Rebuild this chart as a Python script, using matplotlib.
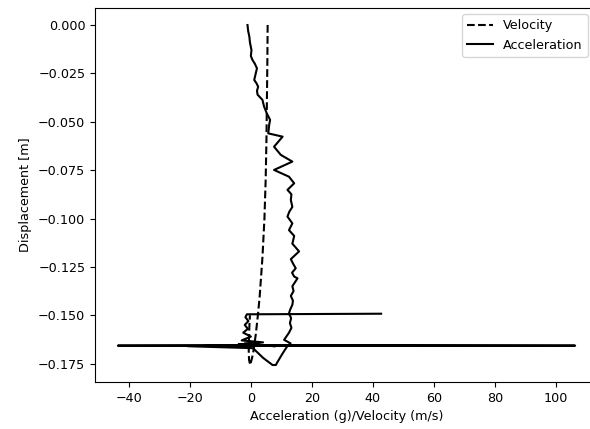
import matplotlib.pyplot as plt

plt.rcParams['font.size'] = 9.2

# velocity (m/s) vs displacement (m)
vel_disp = [0.0, -0.02, -0.04, -0.06, -0.08, -0.10, -0.12, -0.14, -0.15, -0.16, -0.17,
            -0.1757, -0.173, -0.168, -0.162, -0.156, -0.150]
vel = [5.5, 5.4, 5.25, 5.1, 4.85, 4.45, 3.8, 2.9, 2.3, 1.6, 0.7,
       -0.2, -0.6, -0.7, -0.6, -0.5, -0.3]

# acceleration (g) vs displacement (m)
acc_disp = [0.000, -0.003, -0.006, -0.009, -0.013, -0.016, -0.018, -0.020, -0.0224, -0.025,
            -0.0284, -0.030, -0.0319, -0.034, -0.036, -0.0387, -0.042,
            -0.0456, -0.049, -0.0517, -0.056, -0.0577, -0.0629, -0.0671, -0.0706, -0.0749, -0.0784,
            -0.0818, -0.0852, -0.0875, -0.0904, -0.094, -0.0965, -0.099, -0.1025, -0.106, -0.109,
            -0.113, -0.117, -0.121, -0.1235, -0.1257, -0.128, -0.130, -0.1309, -0.135, -0.1375,
            -0.140, -0.1425, -0.1446, -0.147, -0.149, -0.1515, -0.154, -0.1565, -0.159,
            -0.1627, -0.1645, -0.1663, -0.170, -0.1745, -0.1757, -0.1757, -0.172, -0.167,
            -0.1660, -0.1655, -0.1658, -0.1656, -0.1657, -0.1657, -0.1655, -0.1650, -0.1660,
            -0.1645, -0.164, -0.163, -0.161, -0.159, -0.157, -0.155, -0.153, -0.151, -0.1495,
            -0.1492]
acc = [-1.1, -0.9, -0.5, -0.3, 0.2, 0.0, 0.5, 1.3, 2.0, 1.6,
       1.1, 1.8, 2.4, 2.0, 2.2, 3.8, 4.3,
       5.2, 6.3, 6.0, 5.7, 10.4, 7.6, 9.8, 13.6, 7.6, 12.5,
       14.2, 12.0, 13.3, 13.1, 13.6, 12.6, 12.0, 13.6, 12.5, 14.2,
       13.6, 15.8, 13.1, 13.9, 14.7, 13.5, 14.2, 15.3, 13.6, 14.0,
       13.1, 13.8, 13.6, 12.9, 12.5, 13.2, 12.8, 13.3, 12.5,
       10.9, 13.0, 11.8, 10.3, 8.6, 8.2, 7.1, 4.0, 0.7,
       -20.7, 5.0, 49.0, -3.0, -43.6, 106.3, 2.0, -4.0, 8.0,
       -2.0, 4.0, -3.0, 0.0, -2.5, -1.0, -2.0, -0.8, -1.8, -1.3,
       42.7]

fig = plt.figure(figsize=(5.9, 4.29), dpi=100)
ax = fig.add_axes([95/590, 47/429, 503/590, 374/429])
ax.plot(vel, vel_disp, 'k--', label='Velocity')
ax.plot(acc, acc_disp, 'k-', label='Acceleration')
ax.set_xlabel('Acceleration (g)/Velocity (m/s)')
ax.set_ylabel('Displacement [m]')
ax.legend(loc='upper right', bbox_to_anchor=(0.992, 1.0))
fig.savefig('out.png', dpi=100)
